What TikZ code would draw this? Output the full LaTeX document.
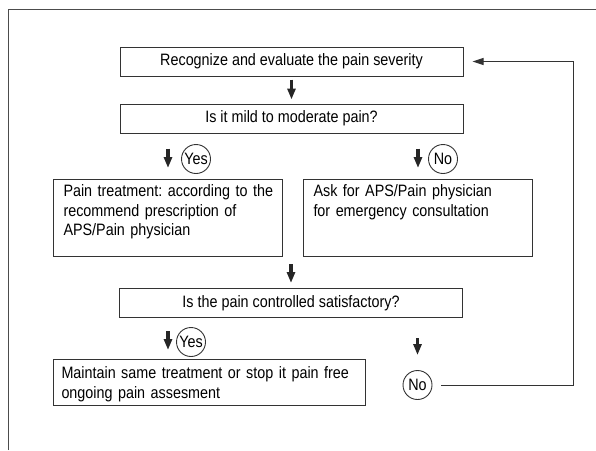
\documentclass[tikz,border=0pt]{standalone}
\usepackage{fontspec}
\setmainfont[FakeStretch=0.87]{Liberation Sans}
\usetikzlibrary{arrows.meta, positioning, calc}

\begin{document}
\frenchspacing
\begin{tikzpicture}[x=1pt, y=-1pt,
    every node/.style={font=\fontsize{16.5}{19.5}\selectfont},
    stepbox/.style={draw=black!80, line width=1pt, minimum width=343pt, minimum height=29pt, inner sep=0pt},
    textbox/.style={draw=black!80, line width=1pt, anchor=north west, align=left, inner xsep=10pt, inner ysep=6pt},
    answer/.style={draw=black!80, line width=0.9pt, circle, minimum size=29pt, inner sep=0pt},
    blk/.style={line width=3.5pt, black!85, -{Triangle[length=11pt, width=8pt]}},
    back/.style={line width=1pt, black!80, -{Triangle[length=11pt, width=7pt]}}]
    \useasboundingbox (0,0) rectangle (596,450);

    % Frame
    \draw[black!70, line width=0.8pt] (8,450) -- (8,9) -- (596,9);

    % Question boxes
    \node[stepbox] (recog) at (291.5,61.5) {Recognize and evaluate the pain severity};
    \node[stepbox] (mild) at (291.5,118.5) {Is it mild to moderate pain?};
    \node[stepbox] (ctrl) at (291,303) {Is the pain controlled satisfactory?};

    % Treatment boxes
    \node[textbox, text width=209pt, text height=11pt, text depth=54pt] (treat) at (53,179)
        {\mbox{Pain treatment: according to the}\\\mbox{recommend prescription of}\\\mbox{APS/Pain physician}};
    \node[textbox, text width=209pt, text height=11pt, text depth=54pt] (ask) at (303,179)
        {\mbox{Ask for APS/Pain physician}\\\mbox{for emergency consultation}};
    \node[textbox, inner xsep=8pt, text width=296pt, text height=13pt, text depth=21pt] (keep) at (53,359)
        {\mbox{Maintain same treatment or stop it pain free}\\\mbox{ongoing pain assesment}};

    % Answers
    \node[answer] (yesA) at (196,159) {Yes};
    \node[answer] (noA) at (443,159) {No};
    \node[answer] (yesB) at (191,342) {Yes};
    \node[answer] (noB) at (417.5,385) {No};

    % Flow arrows
    \draw[blk, shorten <=3pt, shorten >=4pt] (recog.south) -- (mild.north);
    \draw[blk, shorten <=15pt, shorten >=11pt] (mild.south -| treat.north) -- (treat.north);
    \draw[blk, shorten <=15pt, shorten >=11pt] (mild.south -| ask.north) -- (ask.north);
    \draw[blk, shorten <=7pt, shorten >=5pt] (treat.south -| ctrl.north) -- (ctrl.north);
    \draw[blk, shorten <=13pt, shorten >=9pt] (ctrl.south -| treat.north) -- (keep.north -| treat.north);
    \draw[blk, shorten <=20pt, shorten >=15pt] (ctrl.south -| noB.north) -- (noB.north);

    % Back to the start
    \coordinate (corner) at (573,385);
    \draw[back, shorten <=9pt, shorten >=9pt] (noB.east) -- (corner) |- (recog.east);
\end{tikzpicture}
\end{document}
